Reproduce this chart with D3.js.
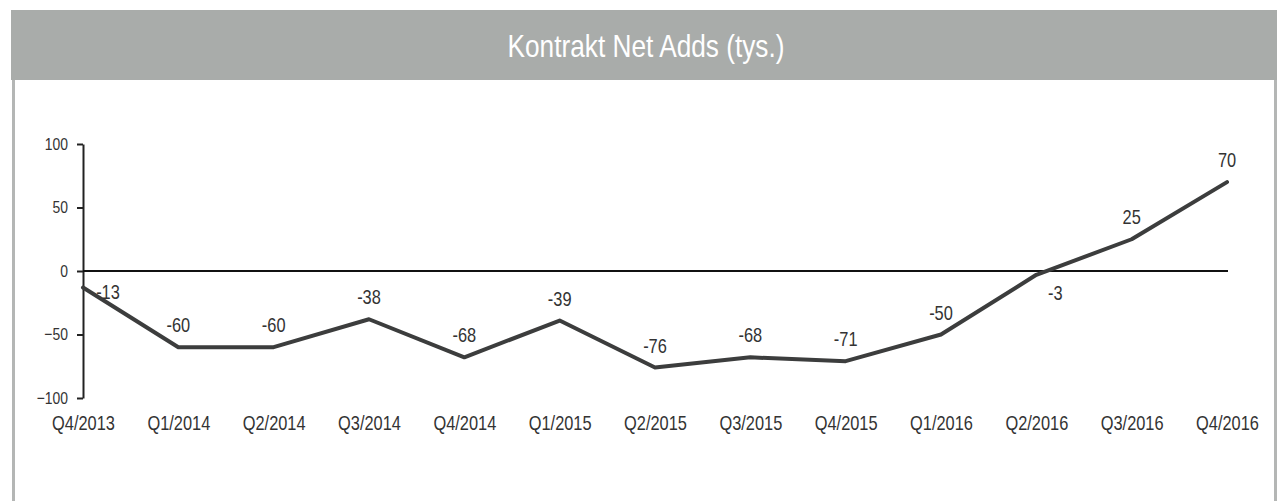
<!DOCTYPE html>
<html>
<head>
<meta charset="utf-8">
<script src="https://cdn.jsdelivr.net/npm/d3@7/dist/d3.min.js"></script>
<style>
  html, body { margin: 0; padding: 0; background: #fff; }
  svg { display: block; }
  text { font-family: "Liberation Sans", Arial, sans-serif; }
</style>
</head>
<body>
<svg id="chart" width="1284" height="501"></svg>
<script>
// ---- data ----
const title = "Kontrakt Net Adds (tys.)";
const categories = ["Q4/2013","Q1/2014","Q2/2014","Q3/2014","Q4/2014","Q1/2015","Q2/2015","Q3/2015","Q4/2015","Q1/2016","Q2/2016","Q3/2016","Q4/2016"];
const netAdds = [-13, -60, -60, -38, -68, -39, -76, -68, -71, -50, -3, 25, 70];
const yTicks = [-100, -50, 0, 50, 100];

// ---- layout ----
const W = 1284, H = 501;
const SX = 0.82; // horizontal condensing (narrow font look)
const svg = d3.select("#chart");

// header band
svg.append("rect").attr("x", 11).attr("y", 10).attr("width", 1266).attr("height", 70).attr("fill", "#a9acaa");
// panel borders
svg.append("rect").attr("x", 12).attr("y", 80).attr("width", 3).attr("height", H - 80).attr("fill", "#b4b6b5");
svg.append("rect").attr("x", 1274).attr("y", 80).attr("width", 3).attr("height", H - 80).attr("fill", "#b4b6b5");

svg.append("text")
  .attr("transform", `translate(646,57) scale(${SX},1)`)
  .attr("text-anchor", "middle")
  .attr("fill", "#ffffff")
  .attr("font-size", 32)
  .text(title);

const x = d3.scalePoint().domain(categories).range([83, 1227]);
const y = d3.scaleLinear().domain([-100, 100]).range([398, 144]);

// y axis
const yAxis = d3.axisLeft(y).tickValues(yTicks).tickSize(6).tickSizeOuter(0).tickPadding(8);
const gy = svg.append("g").attr("transform", "translate(83,0)").call(yAxis);
gy.select(".domain").attr("stroke", "#222").attr("stroke-width", 2);
gy.selectAll(".tick line").attr("stroke", "#222").attr("stroke-width", 2);
gy.selectAll(".tick text").attr("font-size", 17).attr("fill", "#333")
  .attr("font-family", "\"Liberation Sans\", Arial, sans-serif")
  .attr("x", -15 / SX)
  .attr("transform", `scale(${SX},1)`);

// zero line
svg.append("line")
  .attr("x1", x(categories[0])).attr("x2", x(categories[categories.length - 1]) + 1)
  .attr("y1", y(0)).attr("y2", y(0))
  .attr("stroke", "#111").attr("stroke-width", 2);

// x labels
const xAxis = d3.axisBottom(x).tickSize(0).tickPadding(0);
const gx = svg.append("g").attr("transform", "translate(0,416)").call(xAxis);
gx.select(".domain").remove();
gx.selectAll(".tick text").attr("font-size", 20).attr("fill", "#333").attr("dy", "0.7em")
  .attr("font-family", "\"Liberation Sans\", Arial, sans-serif")
  .attr("transform", `scale(${SX},1)`);

// line
const pts = categories.map((c, i) => ({ c, v: netAdds[i] }));
svg.append("path")
  .datum(pts)
  .attr("fill", "none")
  .attr("stroke", "#3c3d3d")
  .attr("stroke-width", 4)
  .attr("stroke-linejoin", "round")
  .attr("stroke-linecap", "round")
  .attr("d", d3.line().x(d => x(d.c)).y(d => y(d.v)));

// value labels (placement tweaks)
const labelOffset = { 0: [25, 11], 10: [19, 25] };
svg.append("g").selectAll("text")
  .data(pts)
  .join("text")
  .attr("transform", (d, i) => {
    const o = labelOffset[i] || [0, -15];
    return `translate(${x(d.c) + o[0]},${y(d.v) + o[1]}) scale(${SX},1)`;
  })
  .attr("text-anchor", "middle")
  .attr("font-size", 20)
  .attr("fill", "#333")
  .text(d => d.v);
</script>
</body>
</html>
